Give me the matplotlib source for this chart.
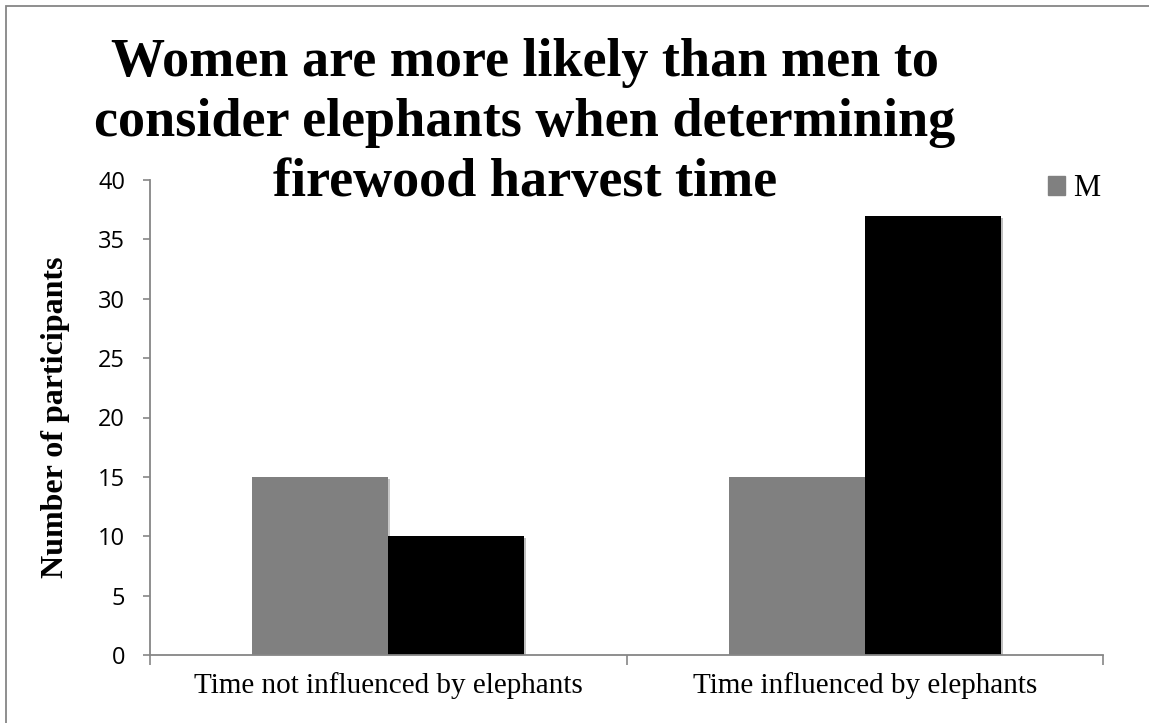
import matplotlib.pyplot as plt
import matplotlib.patheffects as pe
from matplotlib.patches import Rectangle, Patch
import numpy as np

categories = ['Time not influenced by elephants', 'Time influenced by elephants']
male = [15, 15]
female = [10, 37]
yticks = [0, 5, 10, 15, 20, 25, 30, 35, 40]
title_lines = ['Women are more likely than men to',
               'consider elephants when determining',
               'firewood harvest time']

serif = 'Liberation Serif'
sans = 'Open Sans'

fig = plt.figure(figsize=(11.49, 7.23), dpi=100)
ax = fig.add_axes([150/1149, 1-655/723, 953/1149, 475/723])

x = np.arange(len(categories))
w = 136/476.5
shadow = [pe.SimplePatchShadow(offset=(1.5, -1.5), alpha=0.25), pe.Normal()]
b1 = ax.bar(x - w/2, male, w, color='#808080', label='M')
b2 = ax.bar(x + w/2, female, w, color='#000000', label='F')
for b in list(b1) + list(b2):
    b.set_path_effects(shadow)

ax.set_xlim(-0.5, 1.5)
ax.set_ylim(0, 40)
ax.set_yticks(yticks)
ax.set_yticklabels([str(v) for v in yticks], fontfamily=sans, fontsize=17)
ax.set_xticks(x)
ax.set_xticklabels(categories, fontfamily=serif, fontsize=21)
ax.set_xticks([-0.5, 0.5, 1.5], minor=True)
ax.tick_params(axis='x', which='major', length=0, pad=12)
ax.tick_params(axis='x', which='minor', length=7, width=1.2, color='#868686', direction='out')
ax.tick_params(axis='y', length=5, width=1.2, color='#868686', direction='out', pad=13)

for s in ['top', 'right']:
    ax.spines[s].set_visible(False)
for s in ['left', 'bottom']:
    ax.spines[s].set_color('#868686')
    ax.spines[s].set_linewidth(1.3)

ax.set_ylabel('Number of participants', fontfamily=serif, fontsize=23,
              fontweight='bold')
ax.yaxis.set_label_coords(-95/953, 0.5)
ax.yaxis.label.set_va('center')

# title, one line at a time, baselines 60 px apart
for i, line in enumerate(title_lines):
    fig.text(525/1149, 1-(76+60*i)/723, line, ha='center', va='baseline',
             fontfamily=serif, fontsize=39, fontweight='bold')

leg = fig.legend(handles=[Patch(color='#808080', label='M')], loc='center left',
                 bbox_to_anchor=(1033/1149, 1-189/723), frameon=False,
                 prop={'family': serif, 'size': 22}, handlelength=0.55,
                 handleheight=0.55, handletextpad=0.25, borderpad=0)

# outer chart frame
fig.patches.append(Rectangle((6/1149, -0.1), 1.2, 1-6/723+0.1, transform=fig.transFigure,
                             fill=False, edgecolor='#868686', linewidth=1.3))

fig.savefig('out.png', dpi=100)
